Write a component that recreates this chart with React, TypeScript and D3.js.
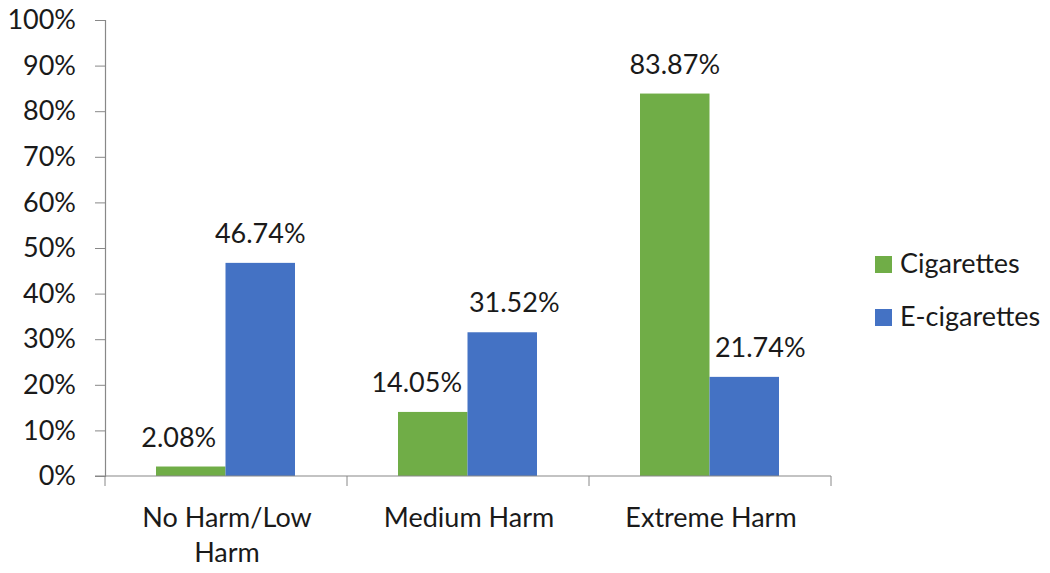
import React, { useEffect, useRef } from 'react';
import * as d3 from 'd3';

const categories = ['No Harm/Low Harm', 'Medium Harm', 'Extreme Harm'];
const seriesNames = ['Cigarettes', 'E-cigarettes'];
const cigarettes = [2.08, 14.05, 83.87];
const eCigarettes = [46.74, 31.52, 21.74];
const yTicks = [0, 10, 20, 30, 40, 50, 60, 70, 80, 90, 100];
const colors = ['#70AD47', '#4472C4'];

const App = () => {
  const ref = useRef<SVGSVGElement>(null);

  useEffect(() => {
    const svg = d3.select(ref.current);
    svg.selectAll('*').remove();
    const font = 'Lato, "Open Sans", sans-serif';
    const fs = 27;

    const left = 105, right = 831, top = 20, bottom = 476;

    const x = d3.scaleBand().domain(categories).range([left, right]).paddingInner(0).paddingOuter(0);
    const inner = d3.scaleBand().domain(seriesNames).range([51, x.bandwidth() - 52]).padding(0);
    const y = d3.scaleLinear().domain([0, 100]).range([bottom, top]);

    // y axis
    const yAxis = svg.append('g').attr('transform', `translate(${left},0)`)
      .call(d3.axisLeft(y).tickValues(yTicks).tickSize(10).tickFormat((d) => `${d}%`));
    yAxis.select('.domain').attr('stroke', '#888').attr('stroke-width', 1.2);
    yAxis.selectAll('.tick line').attr('stroke', '#888');
    yAxis.selectAll('.tick text').attr('font-family', font).attr('font-size', fs).attr('fill', '#1a1a1a').attr('x', -29);

    // labels are pushed apart a bit where they would collide, like excel does
    const nudge = [[-12, -16, 0], [0, 12, 16]];
    const series = [cigarettes, eCigarettes];
    series.forEach((vals, si) => {
      const g = svg.append('g');
      g.selectAll('rect').data(vals).enter().append('rect')
        .attr('x', (_, i) => (x(categories[i]) as number) + (inner(seriesNames[si]) as number))
        .attr('y', (d) => y(d))
        .attr('width', inner.bandwidth())
        .attr('height', (d) => bottom - y(d))
        .attr('fill', colors[si]);
      g.selectAll('text').data(vals).enter().append('text')
        .attr('x', (_, i) => (x(categories[i]) as number) + (inner(seriesNames[si]) as number) + inner.bandwidth() / 2 + nudge[si][i])
        .attr('y', (d) => y(d) - 20)
        .attr('text-anchor', 'middle')
        .attr('font-family', font).attr('font-size', fs).attr('fill', '#1a1a1a')
        .text((d) => `${d.toFixed(2)}%`);
    });

    // x axis
    const xAxis = svg.append('g').attr('transform', `translate(0,${bottom})`);
    xAxis.append('line').attr('x1', left - 10).attr('x2', right).attr('y1', 0).attr('y2', 0)
      .attr('stroke', '#888').attr('stroke-width', 1.2);
    const edges = [left, ...categories.map((c) => (x(c) as number) + x.bandwidth())];
    xAxis.selectAll('.xt').data(edges).enter().append('line')
      .attr('x1', (d) => d).attr('x2', (d) => d).attr('y1', 0).attr('y2', 10).attr('stroke', '#888');

    const catLines = [['No Harm/Low', 'Harm'], ['Medium Harm'], ['Extreme Harm']];
    categories.forEach((c, i) => {
      const cx = (x(c) as number) + x.bandwidth() / 2 + 1;
      const t = svg.append('text')
        .attr('x', cx)
        .attr('y', 527)
        .attr('text-anchor', 'middle')
        .attr('font-family', font).attr('font-size', fs).attr('fill', '#1a1a1a');
      catLines[i].forEach((line, li) => {
        t.append('tspan').attr('x', cx).attr('dy', li === 0 ? 0 : 35).text(line);
      });
    });

    // legend
    const legend = svg.append('g');
    seriesNames.forEach((name, i) => {
      const ly = 264 + i * 53;
      legend.append('rect').attr('x', 875).attr('y', ly - 8).attr('width', 17).attr('height', 17).attr('fill', colors[i]);
      legend.append('text').attr('x', 900).attr('y', ly + 9)
        .attr('font-family', font).attr('font-size', fs).attr('fill', '#1a1a1a').text(name);
    });
  }, []);

  return (
    <svg ref={ref} width={1050} height={573}
      style={{ position: 'absolute', left: 0, top: 0, background: '#fff' }} />
  );
};

export default App;
